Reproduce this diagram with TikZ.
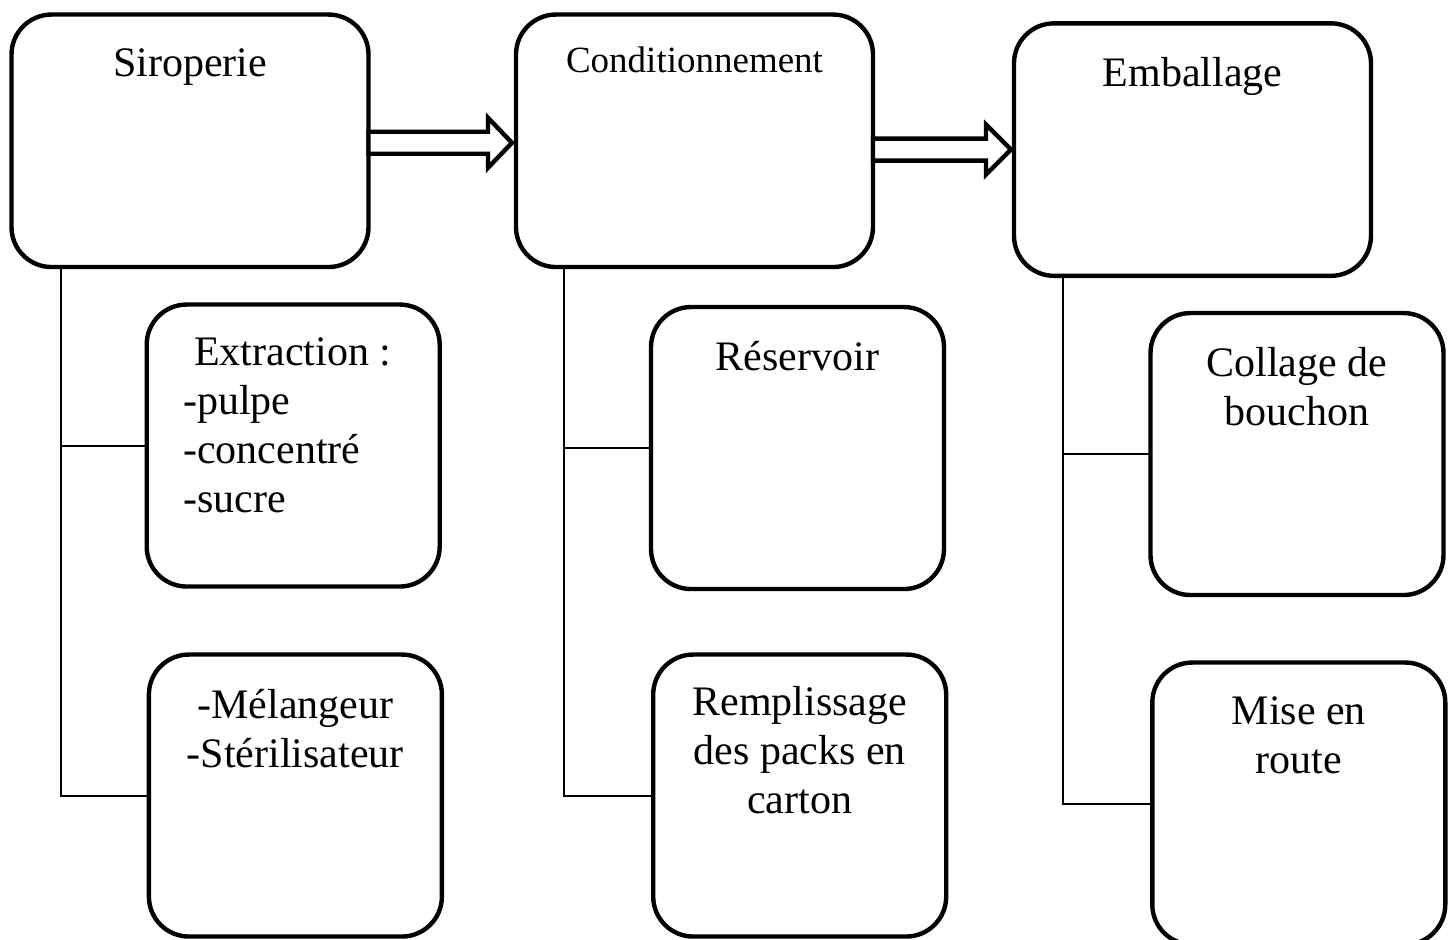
\documentclass[tikz,border=0pt]{standalone}
\usepackage{fontspec}
\setmainfont{Liberation Serif}
\usetikzlibrary{positioning,calc}

\tikzset{
  stage/.style={draw, line width=2.2pt, rounded corners=20pt, outer sep=0pt,
                minimum width=178.5pt, minimum height=126.25pt},
  substage/.style={draw, line width=2.2pt, rounded corners=20pt, outer sep=0pt,
                minimum width=146.5pt, minimum height=141pt},
  boxtext/.style={inner sep=0pt, anchor=north, yshift=-17pt, align=center,
                font=\fontsize{21}{24.5}\selectfont},
  branch/.style={line width=1pt},
  blockarrow/.style={draw, line width=2.2pt, fill=white}
}

\begin{document}
\begin{tikzpicture}
\useasboundingbox (0,0) rectangle (726.5pt,-470pt);
% main stages
\node[stage, label={[boxtext]north:Siroperie}] (sir) at (95pt,-70.4pt) {};
\node[stage, right=73.75pt of sir,
      label={[boxtext, yshift=1.2pt, font=\fontsize{18.5}{22}\selectfont]north:Conditionnement}] (cond) {};
\node[stage, right=70.5pt of cond, yshift=-4.4pt,
      label={[boxtext]north:Emballage}] (emb) {};
% sub stages
\node[substage, below=18.75pt of sir, xshift=51.6pt,
      label={[boxtext, anchor=north west, align=left, xshift=18pt, yshift=0.8pt]north west:{\hspace*{5.5pt}Extraction :\\-pulpe\\-concentré\\-sucre}}] (ext) {};
\node[substage, below=34pt of ext, xshift=1.1pt,
      label={[boxtext]north:{-Mélangeur\\-Stérilisateur}}] (mel) {};
\node[substage, below=20pt of cond, xshift=51.5pt,
      label={[boxtext]north:Réservoir}] (res) {};
\node[substage, below=32.75pt of res, xshift=1.1pt,
      label={[boxtext, yshift=1.2pt]north:{Remplissage\\des packs en\\carton}}] (rem) {};
\node[substage, below=18.6pt of emb, xshift=52.25pt,
      label={[boxtext]north:{Collage de\\bouchon}}] (col) {};
\node[substage, below=33.75pt of col, xshift=0.9pt,
      label={[boxtext]north:{Mise en\\route}}] (mise) {};
% branches
\coordinate (sirtrunk) at ($(sir.south west)+(24.5pt,0)$);
\coordinate (condtrunk) at ($(cond.south west)+(24pt,0)$);
\coordinate (embtrunk) at ($(emb.south west)+(24.5pt,0)$);
\draw[branch] (sirtrunk) |- (ext.west);
\draw[branch] (sirtrunk) |- (mel.west);
\draw[branch] (condtrunk) |- (res.west);
\draw[branch] (condtrunk) |- (rem.west);
\draw[branch] (embtrunk) |- (col.west);
\draw[branch] (embtrunk) |- (mise.west);
% block arrows
\draw[blockarrow] let \p1=(sir.east), \p2=(cond.west) in
  (\x1,\y1+4.5pt) -- (\x2-14pt,\y1+4.5pt) -- (\x2-14pt,\y1+11.5pt) -- (\x2-2pt,\y1-1pt)
  -- (\x2-14pt,\y1-13.5pt) -- (\x2-14pt,\y1-6.5pt) -- (\x1,\y1-6.5pt) -- cycle;
\draw[blockarrow] let \p1=(cond.east), \p2=(emb.west) in
  (\x1,\y2+5.5pt) -- (\x2-14pt,\y2+5.5pt) -- (\x2-14pt,\y2+12.5pt) -- (\x2-1.5pt,\y2)
  -- (\x2-14pt,\y2-12.5pt) -- (\x2-14pt,\y2-5.5pt) -- (\x1,\y2-5.5pt) -- cycle;
\end{tikzpicture}
\end{document}
